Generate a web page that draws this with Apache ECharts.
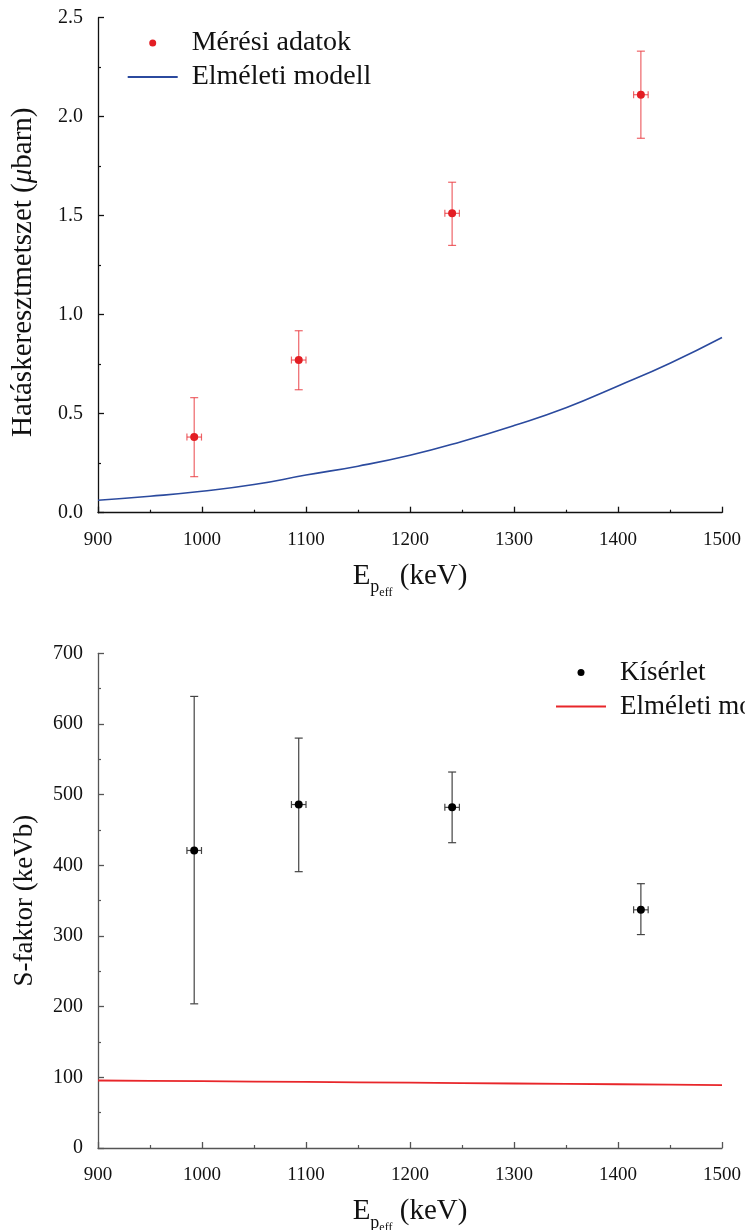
<!DOCTYPE html>
<html>
<head>
<meta charset="utf-8">
<script src="https://cdn.jsdelivr.net/npm/echarts@6/dist/echarts.min.js"></script>
<style>
html,body{margin:0;padding:0;background:#fff;}
#chart{width:745px;height:1230px;}
</style>
</head>
<body>
<div id="chart"></div>
<script>
// ---- data ----
const energy = [992.5, 1093, 1240.5, 1422];
const energyErr = [7, 7, 7, 7];
const sigma = [0.382, 0.771, 1.512, 2.111];
const sigmaLo = [0.182, 0.621, 1.350, 1.891];
const sigmaHi = [0.581, 0.919, 1.669, 2.331];
const sFactor = [421, 486, 482, 337];
const sFactorLo = [204, 391, 432, 302];
const sFactorHi = [639, 580, 532, 374];
const modelE = [900, 950, 1000, 1050, 1100, 1150, 1200, 1250, 1300, 1350, 1400, 1450, 1500];
const modelSigma = [0.063, 0.083, 0.108, 0.142, 0.19, 0.235, 0.29, 0.36, 0.44, 0.53, 0.64, 0.755, 0.885];
const modelS = [95.5, 95.0, 94.5, 94.0, 93.5, 93.0, 92.4, 91.9, 91.3, 90.8, 90.2, 89.6, 89.0];
const xTicks = [900, 1000, 1100, 1200, 1300, 1400, 1500];
const topYTicks = [0, 0.5, 1.0, 1.5, 2.0, 2.5];
const botYTicks = [0, 100, 200, 300, 400, 500, 600, 700];

const FONT = '"Liberation Serif", "Times New Roman", serif';
const chart = echarts.init(document.getElementById('chart'), null, {renderer: 'canvas'});

function errData(xs, xe, ys, lo, hi) {
  return xs.map((x, i) => [x, ys[i], xe[i], lo[i], hi[i]]);
}
function errRender(color, capW, capH) {
  return function (params, api) {
    const x = api.value(0), y = api.value(1), xe = api.value(2), lo = api.value(3), hi = api.value(4);
    const pl = api.coord([x - xe, y]);
    const pr = api.coord([x + xe, y]);
    const pt = api.coord([x, hi]);
    const pb = api.coord([x, lo]);
    const st = {stroke: color, lineWidth: 1.2};
    const line = (x1, y1, x2, y2) => ({type: 'line', shape: {x1, y1, x2, y2}, style: st});
    return {
      type: 'group',
      children: [
        line(pt[0], pt[1], pb[0], pb[1]),
        line(pt[0] - capW, pt[1], pt[0] + capW, pt[1]),
        line(pb[0] - capW, pb[1], pb[0] + capW, pb[1]),
        line(pl[0], pl[1], pr[0], pr[1]),
        line(pl[0], pl[1] - capH, pl[0], pl[1] + capH),
        line(pr[0], pr[1] - capH, pr[0], pr[1] + capH)
      ]
    };
  };
}

function xAxisCfg(gridIndex, color) {
  return {
    type: 'value', gridIndex, min: 900, max: 1500, interval: 100,
    name: '{E|E}{p|p}{eff|eff}{n| (keV)}',
    nameLocation: 'middle', nameGap: 49,
    nameTextStyle: {
      rich: {
        E: {fontFamily: FONT, fontSize: 29, color: '#111', verticalAlign: 'bottom', padding: [0, 0, 8, 0]},
        p: {fontFamily: FONT, fontSize: 18, color: '#111', verticalAlign: 'bottom', padding: [0, 0, 2, 0]},
        eff: {fontFamily: FONT, fontSize: 12, color: '#111', verticalAlign: 'bottom', padding: [0, 0, 0, 0]},
        n: {fontFamily: FONT, fontSize: 29, color: '#111', verticalAlign: 'bottom', padding: [0, 0, 8, 0]}
      }
    },
    axisLine: {show: true, onZero: false, lineStyle: {color, width: 1.3}},
    axisTick: {show: true, inside: true, length: 6, lineStyle: {color, width: 1.3}},
    minorTick: {show: true, splitNumber: 2, length: 3, lineStyle: {color, width: 1.2}},
    axisLabel: {fontFamily: FONT, fontSize: 19, color: '#111', margin: 18,
      customValues: xTicks, formatter: v => String(v)},
    splitLine: {show: false}
  };
}

const LINE_ICON = 'path://M0 0H100V4H0Z';

const option = {
  animation: false,
  backgroundColor: '#fff',
  grid: [
    {left: 98, right: 23, top: 17.7, height: 495, outerBoundsMode: 'none', containLabel: false},
    {left: 98, right: 23, top: 653.3, height: 494.7, outerBoundsMode: 'none', containLabel: false}
  ],
  legend: [
    {
      data: [{name: 'Mérési adatok', icon: 'circle'}, {name: 'Elméleti modell', icon: LINE_ICON}],
      orient: 'vertical', left: 127.7, top: 29, padding: 0,
      itemWidth: 50, itemHeight: 7, itemGap: 6,
      textStyle: {fontFamily: FONT, fontSize: 28, color: '#111', padding: [0, 0, 0, 9]}
    },
    {
      data: [{name: 'Kísérlet', icon: 'circle'}, {name: 'Elméleti modell ', icon: LINE_ICON}],
      orient: 'vertical', left: 556, top: 659, padding: 0,
      itemWidth: 50, itemHeight: 7, itemGap: 7,
      textStyle: {fontFamily: FONT, fontSize: 27, color: '#111', padding: [0, 0, 0, 9]}
    }
  ],
  xAxis: [xAxisCfg(0, '#111'), xAxisCfg(1, '#555')],
  yAxis: [
    {
      type: 'value', gridIndex: 0, min: 0, max: 2.5, interval: 0.5,
      name: 'Hatáskeresztmetszet ({mu|μ}barn)',
      nameLocation: 'middle', nameGap: 60,
      nameTextStyle: {fontFamily: FONT, fontSize: 29, color: '#111', padding: [0, 14, 0, 0],
        rich: {mu: {fontFamily: FONT, fontSize: 29, fontStyle: 'italic', color: '#111'}}},
      axisLine: {show: true, onZero: false, lineStyle: {color: '#111', width: 1.3}},
      axisTick: {show: true, inside: true, length: 6, lineStyle: {color: '#111', width: 1.3}},
      minorTick: {show: true, splitNumber: 2, length: 3, lineStyle: {color: '#111', width: 1.2}},
      axisLabel: {fontFamily: FONT, fontSize: 20, color: '#111', margin: 15,
        customValues: topYTicks, formatter: v => v.toFixed(1)},
      splitLine: {show: false}
    },
    {
      type: 'value', gridIndex: 1, min: 0, max: 700, interval: 100,
      name: 'S-faktor (keVb)',
      nameLocation: 'middle', nameGap: 60,
      nameTextStyle: {fontFamily: FONT, fontSize: 27, color: '#111'},
      axisLine: {show: true, onZero: false, lineStyle: {color: '#555', width: 1.3}},
      axisTick: {show: true, inside: true, length: 6, lineStyle: {color: '#555', width: 1.3}},
      minorTick: {show: true, splitNumber: 2, length: 3, lineStyle: {color: '#555', width: 1.2}},
      axisLabel: {fontFamily: FONT, fontSize: 20, color: '#111', margin: 15,
        customValues: botYTicks},
      splitLine: {show: false}
    }
  ],
  series: [
    {
      type: 'line', name: 'Elméleti modell', xAxisIndex: 0, yAxisIndex: 0,
      data: modelE.map((e, i) => [e, modelSigma[i]]),
      smooth: true, showSymbol: false, symbol: 'none',
      lineStyle: {color: '#2b4a9e', width: 1.6}, itemStyle: {color: '#2b4a9e'}, z: 2
    },
    {
      type: 'custom', xAxisIndex: 0, yAxisIndex: 0,
      renderItem: errRender('rgba(232,50,55,0.75)', 4, 3.5),
      data: errData(energy, energyErr, sigma, sigmaLo, sigmaHi),
      encode: {x: 0, y: 1}, z: 3
    },
    {
      type: 'scatter', name: 'Mérési adatok', xAxisIndex: 0, yAxisIndex: 0,
      data: energy.map((e, i) => [e, sigma[i]]),
      symbol: 'circle', symbolSize: 8,
      itemStyle: {color: '#e31e24', opacity: 1}, z: 4
    },
    {
      type: 'line', name: 'Elméleti modell ', xAxisIndex: 1, yAxisIndex: 1,
      data: modelE.map((e, i) => [e, modelS[i]]),
      showSymbol: false, symbol: 'none',
      lineStyle: {color: '#e8262a', width: 1.8}, itemStyle: {color: '#e8262a'}, z: 2
    },
    {
      type: 'custom', xAxisIndex: 1, yAxisIndex: 1,
      renderItem: errRender('#444', 4, 3.5),
      data: errData(energy, energyErr, sFactor, sFactorLo, sFactorHi),
      encode: {x: 0, y: 1}, z: 3
    },
    {
      type: 'scatter', name: 'Kísérlet', xAxisIndex: 1, yAxisIndex: 1,
      data: energy.map((e, i) => [e, sFactor[i]]),
      symbol: 'circle', symbolSize: 8,
      itemStyle: {color: '#000', opacity: 1}, z: 4
    }
  ]
};
chart.setOption(option);
</script>
</body>
</html>
